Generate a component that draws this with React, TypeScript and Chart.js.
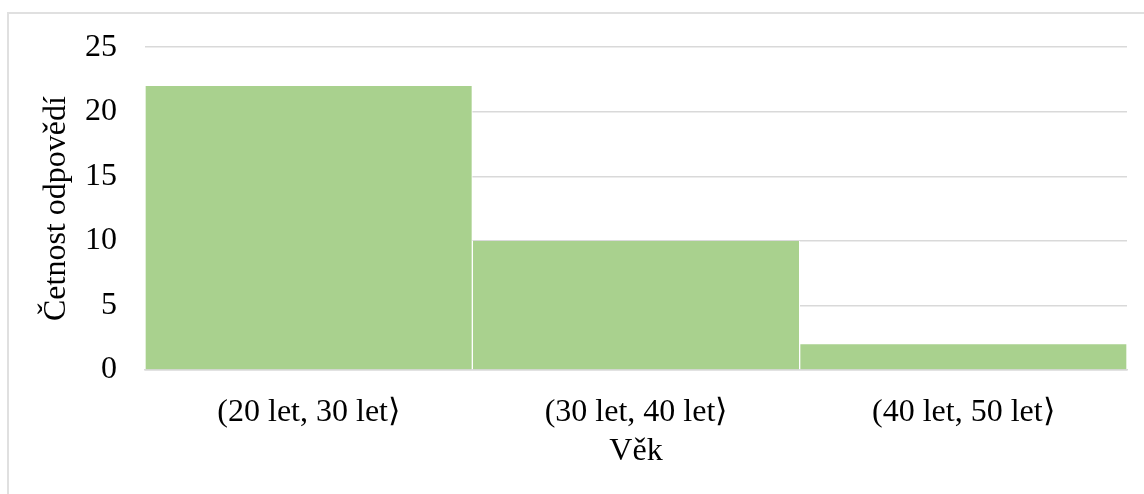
import React, { useEffect, useRef } from "react";
import { Chart, registerables } from "chart.js";

Chart.register(...registerables);

// Age groups and number of answers in each
const categories = ["(20 let, 30 let⟩", "(30 let, 40 let⟩", "(40 let, 50 let⟩"];
const counts = [22, 10, 2];
const yTitle = "Četnost odpovědí";
const xTitle = "Věk";

const FONT = "'Liberation Serif', 'Times New Roman', serif";
const GRID = "#d9d9d9";
const SIZE = 32;

export default function App() {
  const canvasRef = useRef<HTMLCanvasElement | null>(null);

  useEffect(() => {
    const canvas = canvasRef.current;
    if (!canvas) return;
    const chart = new Chart(canvas, {
      type: "bar",
      data: {
        labels: categories,
        datasets: [
          {
            data: counts,
            backgroundColor: "#a9d18e",
            borderColor: "#ffffff",
            borderWidth: { left: 1, right: 1, top: 0, bottom: 0 },
            borderSkipped: false,
            categoryPercentage: 1,
            barPercentage: 1,
          },
        ],
      },
      options: {
        responsive: false,
        animation: false,
        layout: { padding: { left: 0, right: 17, top: 43, bottom: 4 } },
        plugins: {
          legend: { display: false },
          tooltip: { enabled: false },
        },
        scales: {
          x: {
            grid: { display: false, drawTicks: false },
            border: { display: true, color: GRID, width: 1.5 },
            ticks: {
              color: "#000",
              padding: 23,
              maxRotation: 0,
              font: { family: FONT, size: SIZE },
            },
            title: {
              display: true,
              text: xTitle,
              color: "#000",
              padding: { top: 0, bottom: 19 },
              font: { family: FONT, size: SIZE },
            },
            afterFit: (scale: any) => {
              scale.height = 494 - 4 - 370;
            },
          },
          y: {
            min: 0,
            max: 25,
            grid: { color: GRID, lineWidth: 1.5, drawTicks: false },
            border: { display: false },
            ticks: {
              stepSize: 5,
              color: "#000",
              padding: 28,
              font: { family: FONT, size: SIZE },
            },
            title: {
              display: true,
              text: yTitle,
              color: "#000",
              padding: { top: 37, bottom: 0 },
              font: { family: FONT, size: SIZE },
            },
            afterFit: (scale: any) => {
              scale.width = 145;
            },
          },
        },
      },
    });
    return () => chart.destroy();
  }, []);

  return (
    <div
      style={{
        position: "fixed",
        left: 0,
        top: 0,
        width: 1144,
        height: 494,
        background: "#fff",
        overflow: "hidden",
      }}
    >
      <div
        style={{
          position: "absolute",
          left: 7,
          top: 12,
          width: 1300,
          height: 700,
          border: "2px solid #e0e0e0",
          boxSizing: "border-box",
        }}
      />
      <canvas
        ref={canvasRef}
        width={1144}
        height={494}
        style={{ position: "absolute", left: 0, top: 0, width: 1144, height: 494 }}
      />
    </div>
  );
}
